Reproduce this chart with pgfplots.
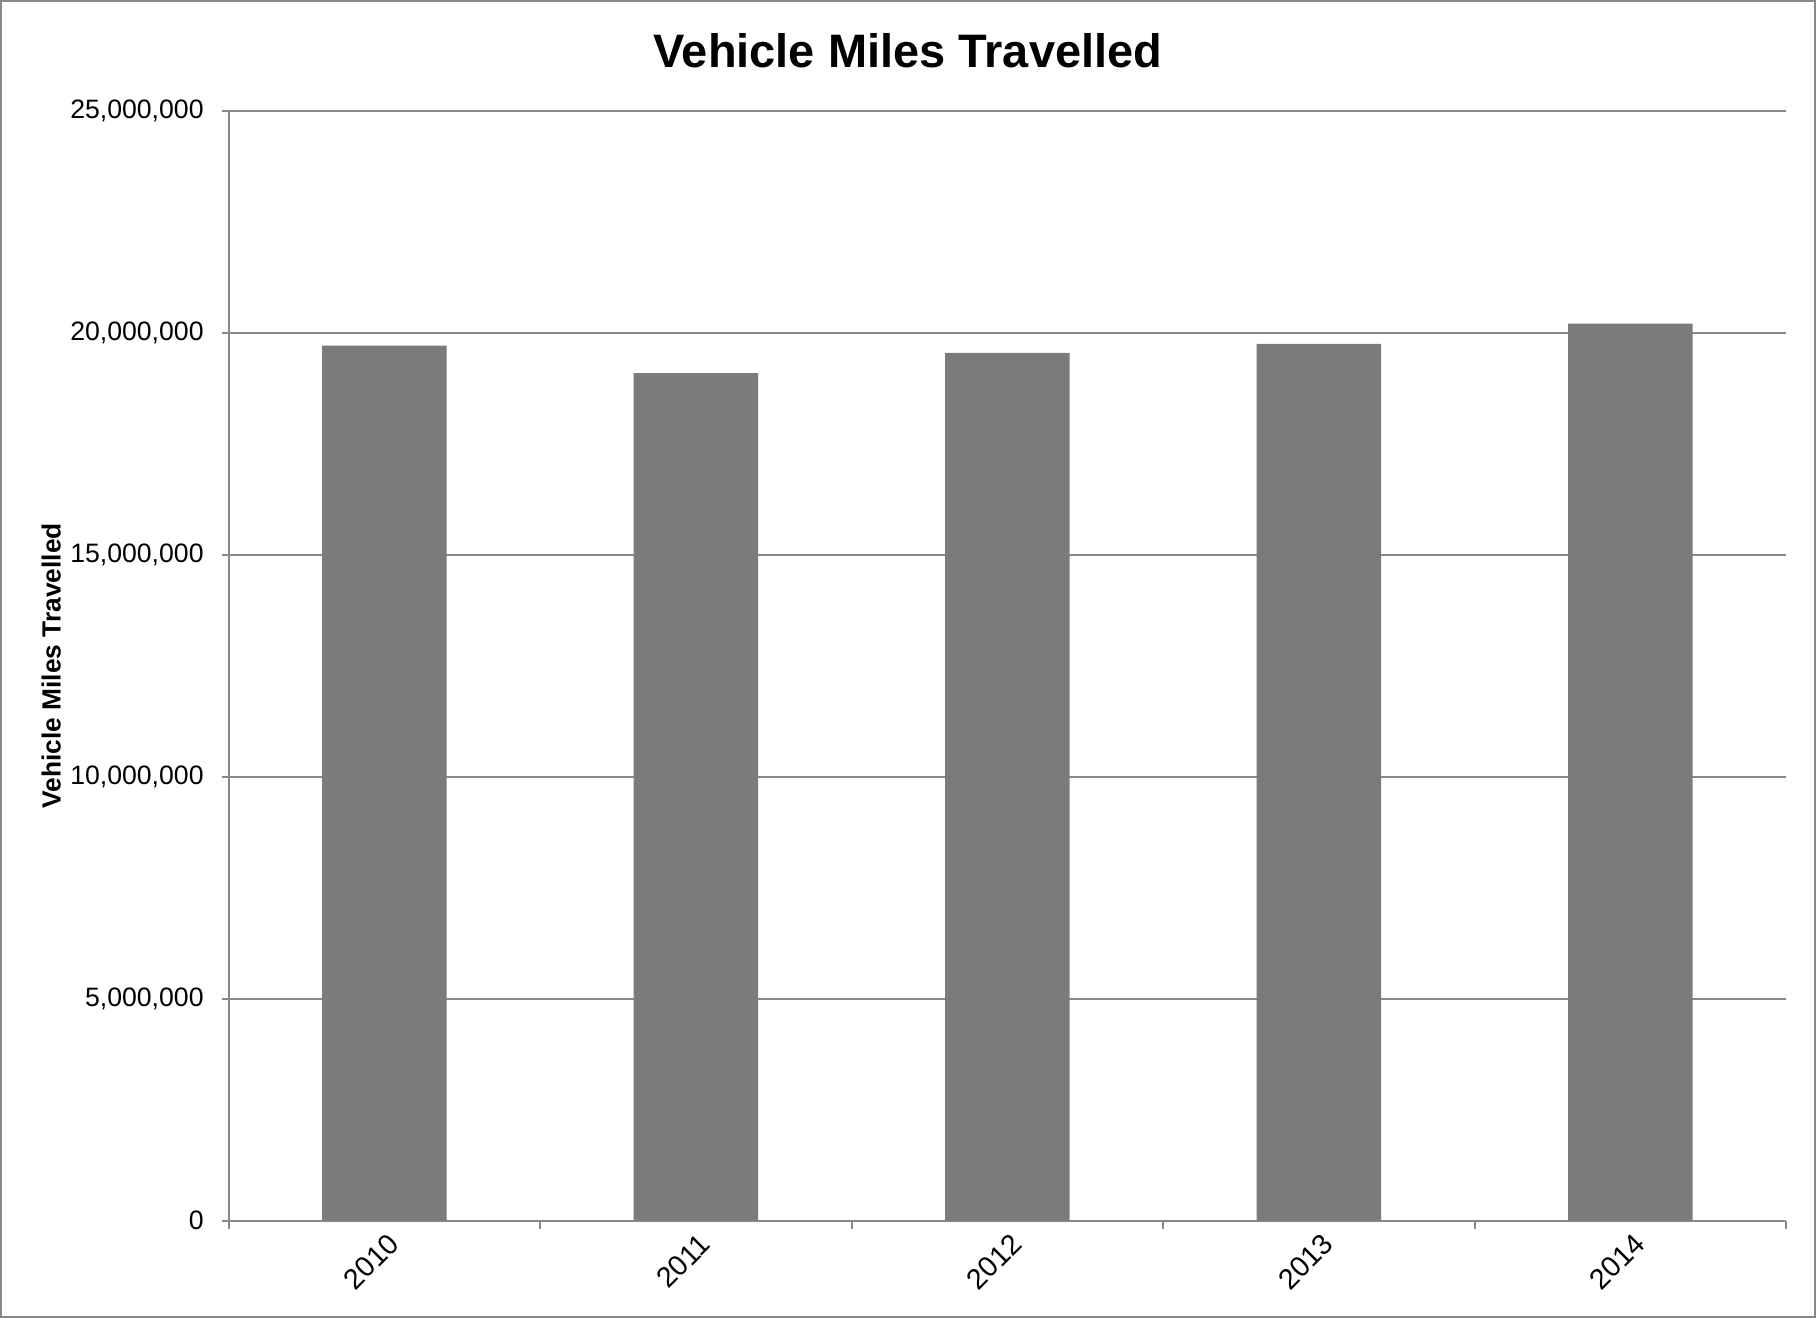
\documentclass[border=0pt]{standalone}
\usepackage{fontspec}
\setmainfont{Liberation Sans}
\usepackage{pgfplots}
\pgfplotsset{compat=1.18}
\definecolor{bargray}{HTML}{7B7B7B}
\definecolor{linegray}{HTML}{888888}

\begin{document}
\begin{tikzpicture}
\begin{axis}[
  scale only axis,
  width=467.7pt, height=333.3pt,
  clip=false,
  xmin=-0.5, xmax=4.5,
  ymin=0, ymax=25000000,
  axis x line*=bottom, axis y line*=left,
  axis line style={linegray, line width=0.6pt},
  xtick={0,1,2,3,4},
  xticklabels={2010,2011,2012,2013,2014},
  major x tick style={draw=none},
  minor xtick={-0.5,0.5,1.5,2.5,3.5,4.5},
  minor tick length=2.4pt,
  major tick length=2pt,
  tick align=outside,
  tick style={linegray, line width=0.6pt},
  ytick={0,5000000,10000000,15000000,20000000,25000000},
  scaled y ticks=false,
  ymajorgrids,
  major grid style={linegray, line width=0.6pt},
  yticklabel style={font=\fontsize{8}{9.6}\selectfont, /pgf/number format/.cd, fixed, 1000 sep={,}, assume math mode=true, /tikz/.cd, xshift=-2pt},
  xticklabel style={font=\fontsize{8.6}{10}\selectfont, rotate=45, anchor=east, xshift=3pt, yshift=-4.5pt},
  ylabel={Vehicle Miles Travelled},
  ylabel style={at={(axis description cs:-0.114,0.5)}, anchor=center, font=\bfseries\fontsize{7.9}{9.5}\selectfont},
  ybar, bar width=0.4,
]
\addplot[fill=bargray, draw=none] coordinates {
  (0,19710000) (1,19090000) (2,19550000) (3,19750000) (4,20210000)
};
\node[anchor=base, font=\bfseries\fontsize{14.1}{17}\selectfont] at (axis description cs:0.436,1.0387) {Vehicle Miles Travelled};
\draw[linegray, line width=0.6pt] (axis description cs:-0.1462,-0.0864) rectangle (axis description cs:1.0186,1.099);
\end{axis}
\end{tikzpicture}
\end{document}
